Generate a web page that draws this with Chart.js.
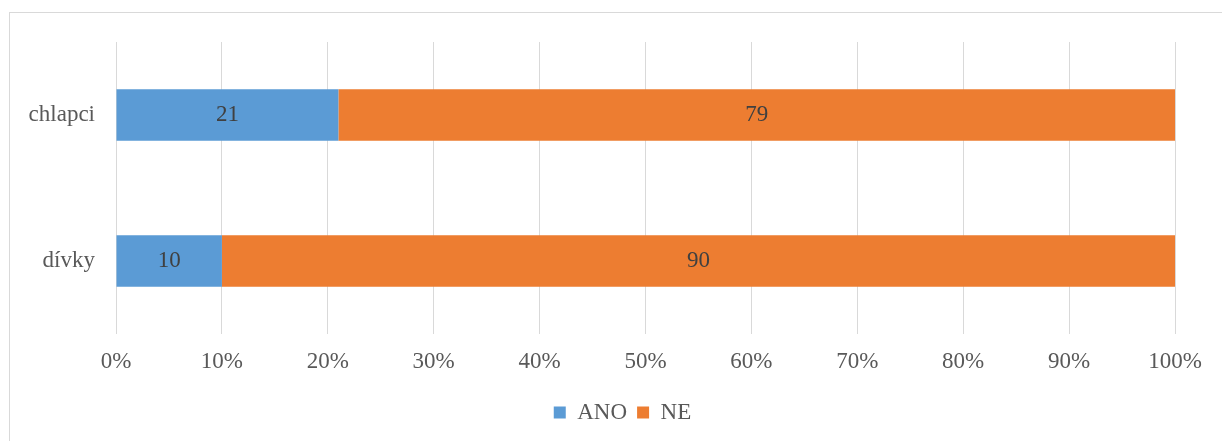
<!DOCTYPE html>
<html>
<head>
<meta charset="utf-8">
<script src="https://cdn.jsdelivr.net/npm/chart.js@4/dist/chart.umd.min.js"></script>
<style>
  html, body { margin: 0; padding: 0; background: #fff; }
  #wrap { width: 1222px; height: 441px; }
</style>
</head>
<body>
<div id="wrap"><canvas id="chart"></canvas></div>
<script>
const categories = ['chlapci', 'dívky'];
const anoValues = [21, 10];
const neValues = [79, 90];
const seriesNames = ['ANO', 'NE'];
const xTicks = [0, 10, 20, 30, 40, 50, 60, 70, 80, 90, 100];

const FONT = "'Liberation Serif', 'Times New Roman', serif";
const TEXT = '#595959';

// light frame around the whole chart (only the left/top edges fall inside the view)
const framePlugin = {
    id: 'frame',
    beforeDraw(chart) {
        const ctx = chart.ctx;
        ctx.save();
        ctx.strokeStyle = '#d9d9d9';
        ctx.lineWidth = 1;
        ctx.strokeRect(9.5, 12.5, chart.width + 20, chart.height + 20);
        ctx.restore();
    }
};

// centre the legend under the plot instead of under the whole canvas
const legendShiftPlugin = {
    id: 'legendShift',
    afterLayout(chart) {
        if (chart.legend) {
            chart.legend.left += 35;
            chart.legend.right += 35;
        }
    }
};

// value written in the middle of every bar segment
const barValuesPlugin = {
    id: 'barValues',
    afterDatasetsDraw(chart) {
        const ctx = chart.ctx;
        ctx.save();
        ctx.font = '23px ' + FONT;
        ctx.fillStyle = '#404040';
        ctx.textAlign = 'center';
        ctx.textBaseline = 'middle';
        chart.data.datasets.forEach((ds, i) => {
            chart.getDatasetMeta(i).data.forEach((bar, j) => {
                const p = bar.getProps(['x', 'y', 'base'], true);
                ctx.fillText(ds.data[j], (p.x + p.base) / 2, p.y);
            });
        });
        ctx.restore();
    }
};

new Chart(document.getElementById('chart'), {
    type: 'bar',
    data: {
        labels: categories,
        datasets: [
            { label: seriesNames[0], data: anoValues, backgroundColor: '#5b9bd5' },
            { label: seriesNames[1], data: neValues, backgroundColor: '#ed7d31' }
        ]
    },
    options: {
        indexAxis: 'y',
        responsive: true,
        maintainAspectRatio: false,
        animation: false,
        layout: { padding: { top: 42, left: 0, right: 47, bottom: 7 } },
        datasets: { bar: { categoryPercentage: 1, barPercentage: 0.353 } },
        scales: {
            x: {
                stacked: true,
                min: 0,
                max: 100,
                afterBuildTicks: (axis) => { axis.ticks = xTicks.map(v => ({ value: v })); },
                afterFit: (axis) => { axis.height = 57; },
                grid: { color: '#d9d9d9', drawTicks: false },
                border: { display: false },
                ticks: {
                    padding: 14,
                    color: TEXT,
                    font: { family: FONT, size: 23 },
                    callback: (v) => v + '%'
                }
            },
            y: {
                stacked: true,
                afterFit: (axis) => { axis.width = 116; },
                grid: { display: false, drawTicks: false },
                border: { display: false },
                ticks: {
                    padding: 21,
                    color: TEXT,
                    font: { family: FONT, size: 23 }
                }
            }
        },
        plugins: {
            legend: {
                position: 'bottom',
                labels: {
                    boxWidth: 12,
                    boxHeight: 12,
                    padding: 10,
                    color: TEXT,
                    font: { family: FONT, size: 23 }
                }
            },
            tooltip: { enabled: false }
        }
    },
    plugins: [framePlugin, legendShiftPlugin, barValuesPlugin]
});
</script>
</body>
</html>
